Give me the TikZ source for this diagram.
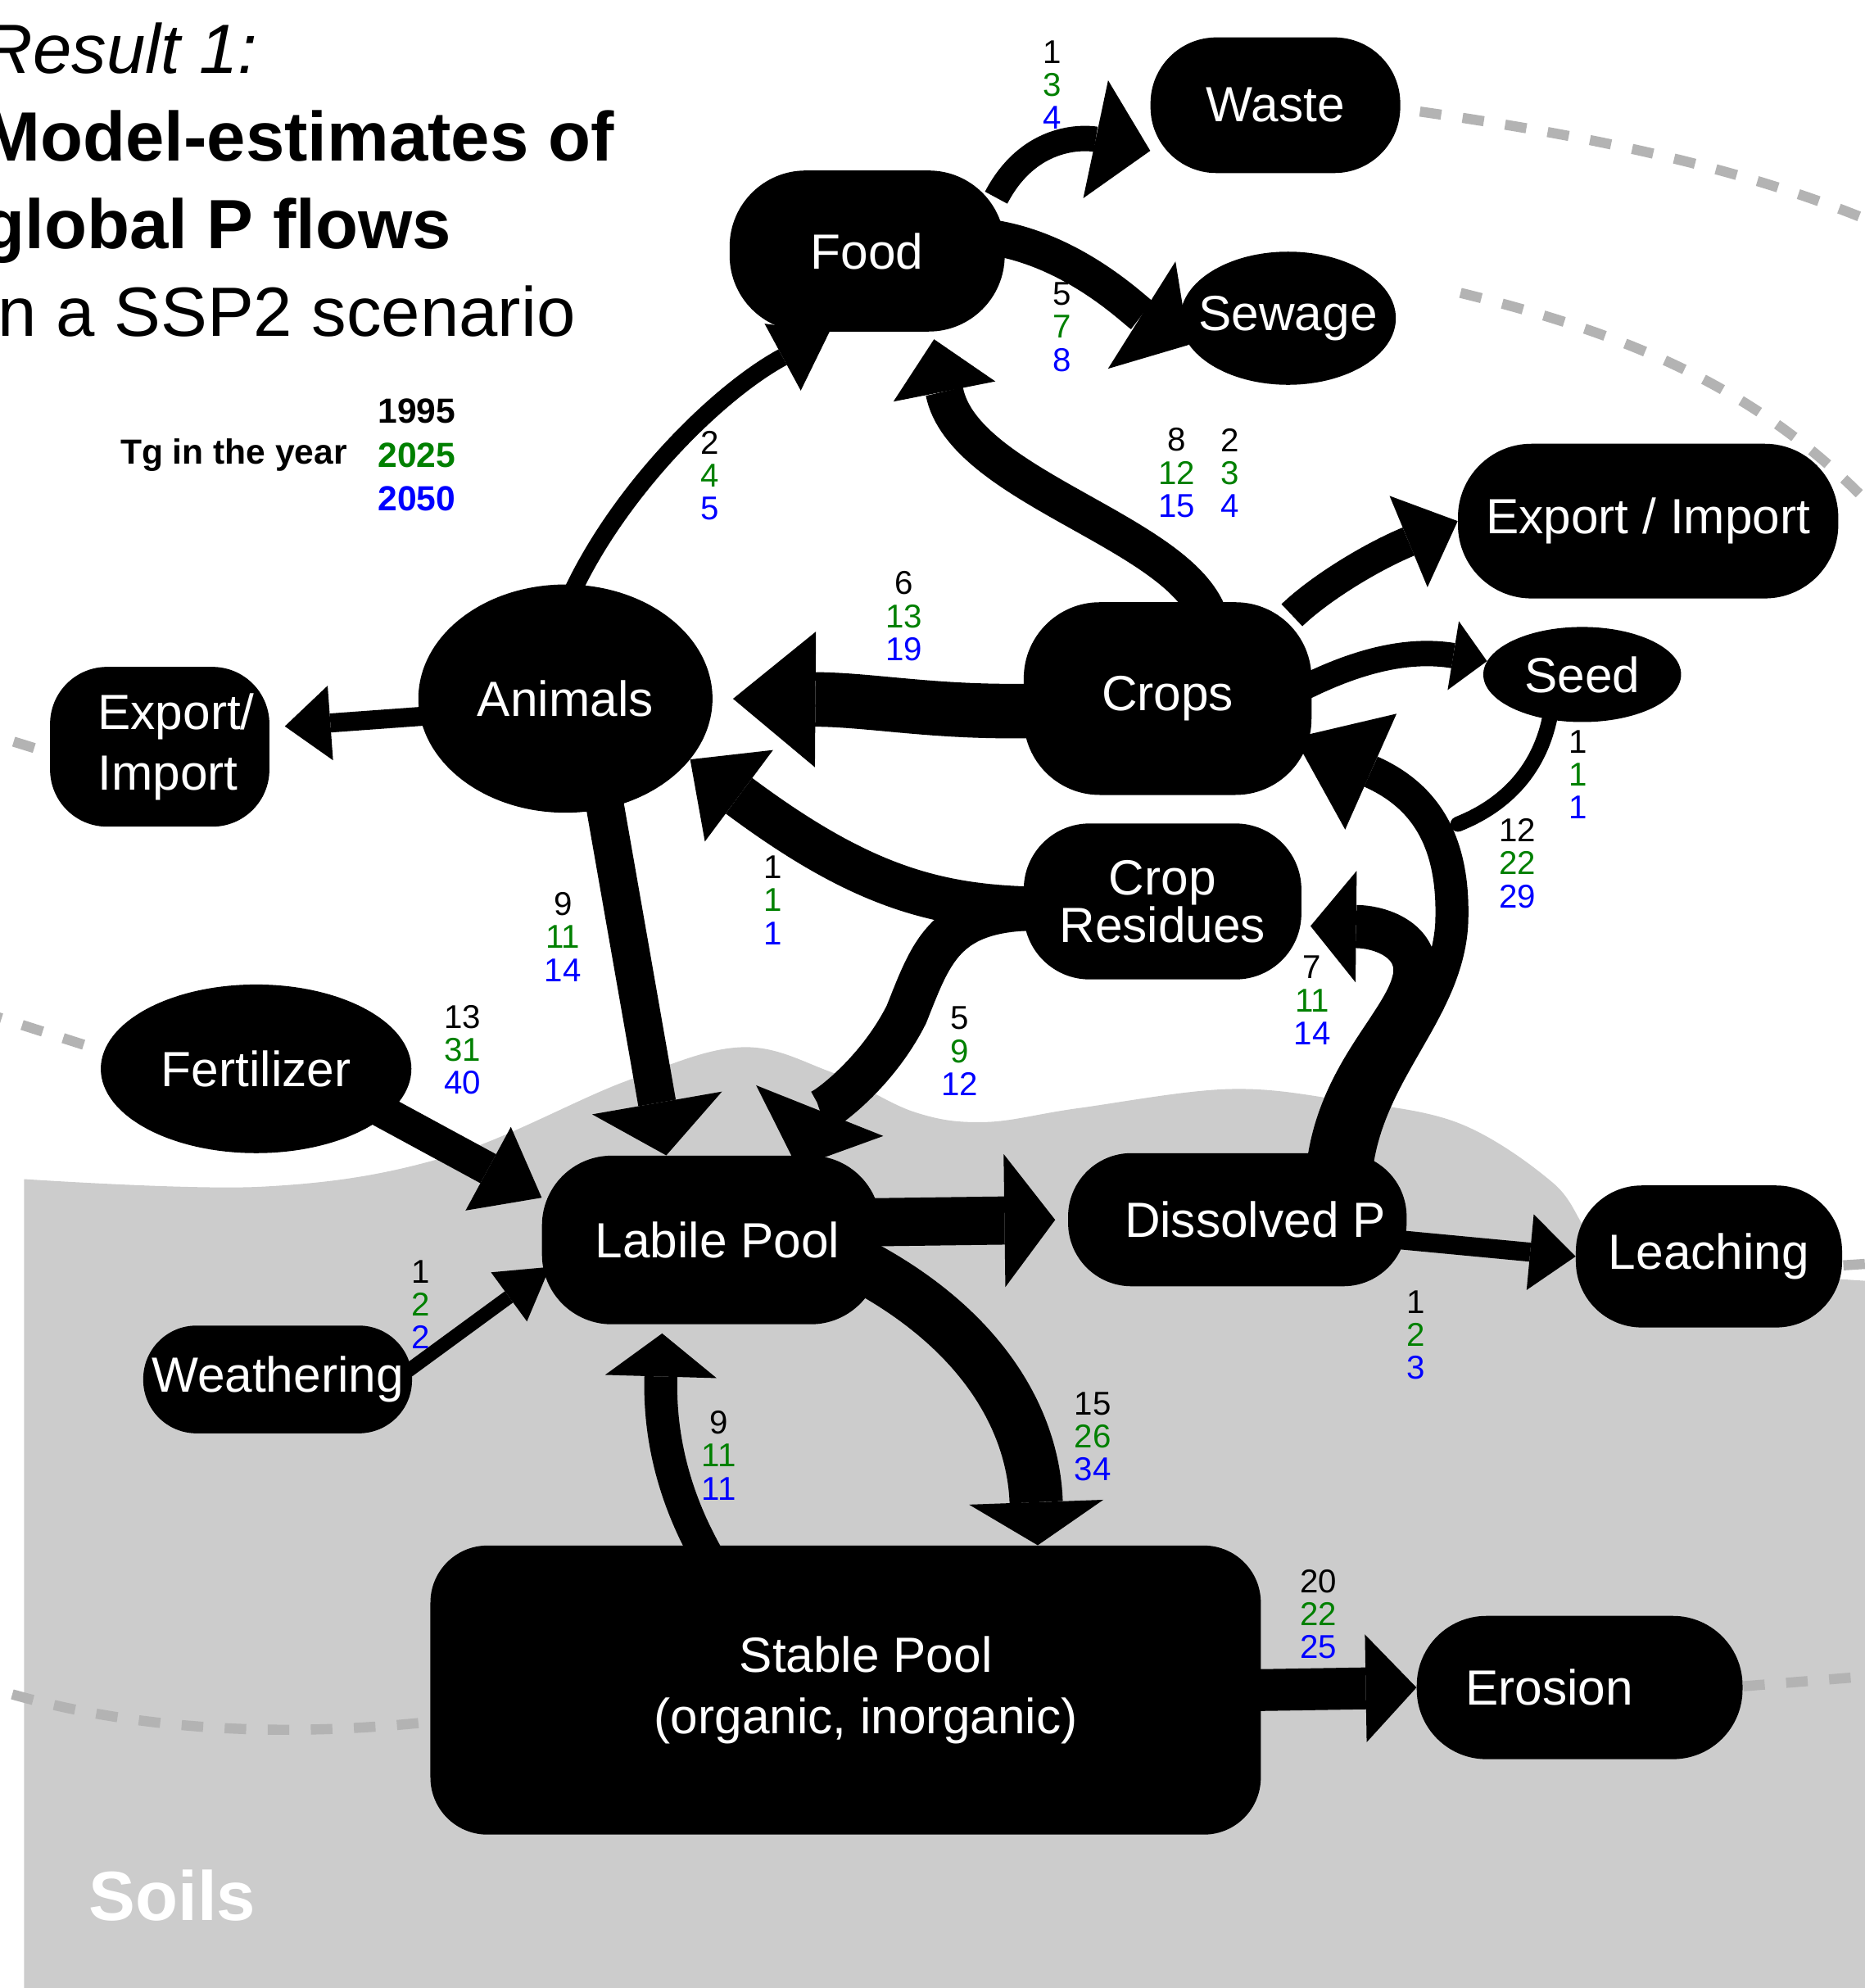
\documentclass[tikz,border=0pt]{standalone}
\usepackage{fontspec}
\setmainfont{Liberation Sans}
\usetikzlibrary{positioning, shapes.geometric, arrows.meta}
\definecolor{pgreen}{HTML}{008000}
\definecolor{soil}{HTML}{CCCCCC}
\definecolor{rimgray}{HTML}{B3B3B3}
\newcommand{\pv}[3]{#1\\\textcolor{pgreen}{#2}\\\textcolor{blue}{#3}}
\pgfdeclarelayer{back}
\pgfdeclarelayer{flows}
\pgfsetlayers{back,flows,main}

\begin{document}
\begin{tikzpicture}[x=1pt, y=-1pt,
    blob/.style={fill=black, text=white, inner sep=0pt, align=center,
                 font=\fontsize{39}{48}\selectfont},
    oval/.style={blob, ellipse, inner xsep=-40pt},
    lump/.style={blob, rectangle, rounded corners=#1},
    lump/.default=50pt,
    val/.style={align=center, inner sep=0pt, font=\fontsize{26}{26}\selectfont},
    head1/.style={anchor=base west, inner sep=0pt, font=\fontsize{55}{68}\selectfont},
    legend/.style={inner sep=0pt, font=\fontsize{27.5}{34.6}\selectfont\bfseries},
    flow/.style={line width=#1},
    phead/.style 2 args={-{Triangle[width=#1, length=#2, line width=0pt]}},
    boundary/.style={draw=rimgray, line width=8pt, dash pattern=on 17pt off 17pt}]
  \useasboundingbox (0,0) rectangle (1471,1568);

  % soil and system border
  \begin{pgfonlayer}{back}
    \fill[soil] plot[smooth, tension=0.6] coordinates {(19,930) (206,936) (350,913)
        (493,853) (584,826) (654,845) (721,877) (777,885) (851,874) (969,859)
        (1060,868) (1151,886) (1225,933) (1256,975) (1300,998) (1453,1009) (1471,1010)}
      -- (1471,1568) -- (19,1568) -- cycle;
    \draw[boundary] (1120,88) .. controls (1260,108) and (1390,135) .. (1500,185);
    \draw[boundary] (1152,231) .. controls (1290,265) and (1400,310) .. (1495,420);
    \draw[boundary] (27,590) -- (-60,563);
    \draw[boundary] (66,824) -- (-40,790);
    \draw[boundary] (330,1359) .. controls (200,1372) and (90,1360) .. (5,1335);
    \draw[boundary] (1375,1330) -- (1500,1320);
    \draw[boundary] (1454,998) -- (1500,995);
  \end{pgfonlayer}

  % title and legend
  \node[head1, font=\fontsize{55}{68}\selectfont\itshape] (res) at (-14,58) {Result 1:};
  \node[head1, font=\fontsize{55}{68}\selectfont\bfseries] (tit1) at (-14,127) {Model-estimates of};
  \node[head1, font=\fontsize{55}{68}\selectfont\bfseries] (tit2) at (-14,196) {global P flows};
  \node[head1] (tit3) at (-14,265) {in a SSP2 scenario};
  \node[legend, anchor=east] (tg) at (274,359) {Tg in the year};
  \node[legend, align=left, right=24pt of tg] (years) {1995\\\textcolor{pgreen}{2025}\\\textcolor{blue}{2050}};
  \node[text=white, inner sep=0pt, font=\fontsize{55}{60}\selectfont\bfseries] (soils) at (136,1495) {Soils};

  % pools
  \node[lump=52pt, minimum width=197pt, minimum height=107pt] (waste) at (1006,83) {Waste};
  \node[lump=60pt, minimum width=217pt, minimum height=127pt] (food) at (684,198) {Food};
  \node[oval, minimum width=170pt, minimum height=105pt] (sewage) at (1016,251) {Sewage};
  \node[lump=58pt, minimum width=300pt, minimum height=122pt] (exportr) at (1300,411) {Export / Import};
  \node[oval, minimum width=156pt, minimum height=75pt] (seed) at (1248,532) {Seed};
  \node[lump=60pt, minimum width=227pt, minimum height=152pt] (crops) at (921,551) {Crops};
  \node[oval, minimum width=232pt, minimum height=180pt] (animals) at (446,551) {Animals};
  \node[lump=45pt, minimum width=173pt, minimum height=126pt, align=left] (exportl) at (126,589)
      {\hspace*{26pt}Export/\\\hspace*{26pt}Import};
  \node[lump=52pt, minimum width=219pt, minimum height=123pt,
        font=\fontsize{39}{36}\selectfont] (residues) at (917,711) {Crop\\Residues};
  \node[oval, minimum width=245pt, minimum height=133pt] (fertilizer) at (202,843) {Fertilizer};
  \node[lump=55pt, minimum width=267pt, minimum height=133pt] (labile) at (561,978) {\hspace*{10pt}Labile Pool};
  \node[lump=50pt, minimum width=267pt, minimum height=105pt] (dissolved) at (976,962) {\hspace*{28pt}Dissolved P};
  \node[lump=52pt, minimum width=210pt, minimum height=112pt] (leaching) at (1348,991) {Leaching};
  \node[lump=42pt, minimum width=212pt, minimum height=85pt] (weathering) at (219,1088) {Weathering};
  \node[lump=45pt, minimum width=655pt, minimum height=228pt] (stable) at (667,1333)
      {\hspace*{32pt}Stable Pool\\\hspace*{32pt}(organic, inorganic)};
  \node[lump=55pt, minimum width=257pt, minimum height=113pt] (erosion) at (1246,1331) {\hspace*{-48pt}Erosion};

  % flow values
  \node[val] (fw) at (830,67) {\pv{1}{3}{4}};
  \node[val] (fs) at (838,258) {\pv{5}{7}{8}};
  \node[val] (af) at (560,375) {\pv{2}{4}{5}};
  \node[val] (cf) at (928,373) {\pv{8}{12}{15}};
  \node[val] (ce) at (970,373) {\pv{2}{3}{4}};
  \node[val] (ca) at (713,486) {\pv{6}{13}{19}};
  \node[val] (sc) at (1245,611) {\pv{1}{1}{1}};
  \node[val] (dc) at (1197,681) {\pv{12}{22}{29}};
  \node[val] (ra) at (610,710) {\pv{1}{1}{1}};
  \node[val] (al) at (444,739) {\pv{9}{11}{14}};
  \node[val] (dr) at (1035,789) {\pv{7}{11}{14}};
  \node[val] (fl) at (365,828) {\pv{13}{31}{40}};
  \node[val] (rl) at (757,829) {\pv{5}{9}{12}};
  \node[val] (wl) at (332,1029) {\pv{1}{2}{2}};
  \node[val] (dl) at (1117,1053) {\pv{1}{2}{3}};
  \node[val] (sl) at (567,1148) {\pv{9}{11}{11}};
  \node[val] (ls) at (862,1133) {\pv{15}{26}{34}};
  \node[val] (se) at (1040,1273) {\pv{20}{22}{25}};

  \coordinate (seedjoin) at (1150,650);

  \begin{pgfonlayer}{flows}
    % food
    \draw[flow=20pt, phead={95pt}{44pt}, shorten <=-15pt] (food.27) .. controls (815,100) and (865,110) .. (waste.200);
    \draw[flow=28pt, phead={100pt}{44pt}, shorten <=-15pt] (food.5) .. controls (845,195) and (895,245) .. (sewage.195);
    \draw[flow=14pt, phead={60pt}{42pt}, shorten <=-15pt] (animals.85) .. controls (485,390) and (565,310) .. (food.245);
    \draw[flow=30pt, phead={82pt}{42pt}, shorten <=-15pt, shorten >=6pt] (crops.69) .. controls (935,420) and (760,385) .. (food.309);
    % crops
    \draw[flow=24pt, phead={78pt}{42pt}, shorten <=-15pt] (crops.35) .. controls (1040,465) and (1080,440) .. (exportr.west);
    \draw[flow=20pt, phead={55pt}{27pt}, shorten <=-15pt] (crops.6) .. controls (1075,518) and (1115,512) .. (seed.172);
    \draw[flow=43pt, phead={107pt}{65pt}, shorten <=-15pt, shorten >=16pt] (crops.185) .. controls (740,563) and (690,552) .. (animals.east);
    % residues
    \draw[flow=35pt, phead={90pt}{48pt}, shorten <=-15pt] (residues.183) .. controls (740,716) and (680,700) .. (animals.334);
    \draw[flow=34pt, phead={108pt}{48pt}, shorten <=-15pt, shorten >=-10pt] (residues.183) .. controls (745,716) and (735,750) .. (715,800) .. controls (690,850) and (645,880) .. (labile.43);
    % animals and inputs
    \draw[flow=15pt, phead={59pt}{36pt}, shorten <=-15pt, shorten >=12pt] (animals.187) -- (exportl.10);
    \draw[flow=30pt, phead={104pt}{42pt}, shorten <=-15pt] (animals.290) -- (labile.118);
    \draw[flow=26pt, phead={75pt}{48pt}, shorten <=-15pt] (fertilizer.341) -- (labile.166);
    \draw[flow=11pt, phead={48pt}{40pt}, shorten <=-12pt, shorten >=-8pt] (weathering.5) -- (labile.191);
    % soil pools
    \draw[flow=38pt, phead={105pt}{40pt}, shorten <=-15pt, shorten >=10pt] (labile.6) -- (dissolved.west);
    \draw[flow=15pt, phead={60pt}{36pt}, shorten <=-15pt] (dissolved.-7) -- (leaching.west);
    \draw[flow=42pt, phead={106pt}{34pt}, shorten <=-15pt] (labile.-12) .. controls (775,1050) and (815,1120) .. (stable.37);
    \draw[flow=26pt, phead={88pt}{34pt}, shorten <=-15pt, shorten >=7pt] (stable.135) .. controls (530,1180) and (520,1130) .. (labile.240);
    \draw[flow=33pt, phead={85pt}{40pt}, shorten <=-15pt] (stable.east) -- (erosion.west);
    % dissolved P uptake
    \draw[flow=34pt, phead={88pt}{36pt}, shorten <=-15pt, shorten >=7pt] (dissolved.36) .. controls (1055,845) and (1112,805) .. (1116,768) .. controls (1118,742) and (1090,731) .. (residues.-10);
    \draw[flow=26pt, phead={100pt}{66pt}, shorten <=-15pt, shorten >=-15pt] (dissolved.29) .. controls (1078,845) and (1140,800) .. (1145,730) .. controls (1148,665) and (1125,628) .. (crops.342);
    \draw[flow=12pt, line cap=round] (seed.234) .. controls (1215,600) and (1195,632) .. (seedjoin);
  \end{pgfonlayer}
\end{tikzpicture}
\end{document}
